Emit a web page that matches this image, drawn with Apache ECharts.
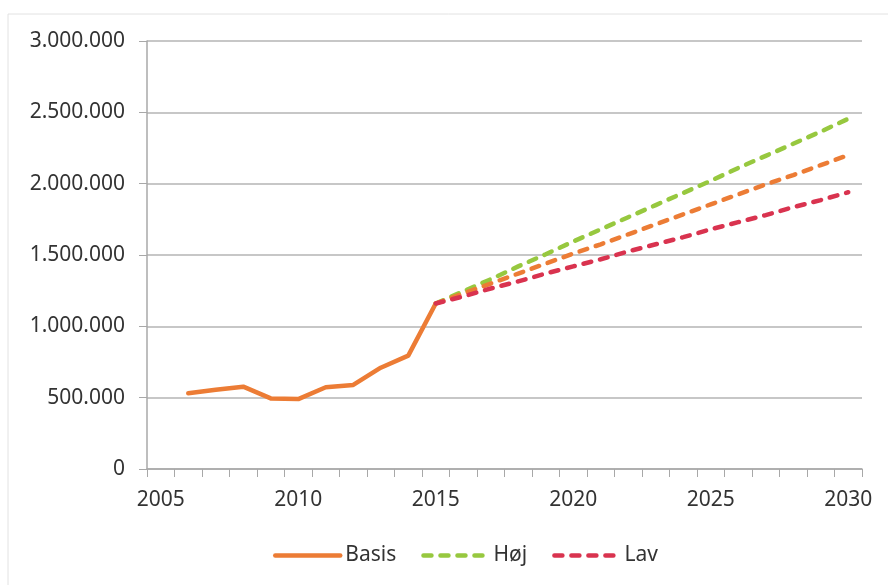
<!DOCTYPE html>
<html>
<head>
<meta charset="utf-8">
<title>Basis / Høj / Lav</title>
<script src="https://cdn.jsdelivr.net/npm/echarts@6/dist/echarts.min.js"></script>
<style>
  html, body { margin: 0; padding: 0; background: #fff; }
  #chart { width: 888px; height: 585px; }
</style>
</head>
<body>
<div id="chart"></div>
<script>
// years on the category axis
const years = []
for (let y = 2005; y <= 2030; y++) years.push(String(y))

// historical values 2005-2015 (2005 has no value)
const basisHist = [null, 531000, 555000, 577000, 495000, 490000, 573000, 589000, 710000, 795000, 1160000]

// projections 2015-2030
const hoejProj  = [1160000, 1245000, 1330000, 1420000, 1505000, 1595000, 1680000, 1765000, 1850000, 1935000, 2020000, 2110000, 2195000, 2280000, 2365000, 2455000]
const basisProj = [1160000, 1230000, 1300000, 1370000, 1440000, 1510000, 1575000, 1645000, 1715000, 1785000, 1855000, 1925000, 1995000, 2060000, 2130000, 2200000]
const lavProj   = [1160000, 1210000, 1265000, 1315000, 1370000, 1420000, 1470000, 1525000, 1575000, 1625000, 1680000, 1730000, 1780000, 1835000, 1885000, 1940000]

const projStart = years.indexOf('2015')

function padHist(arr) {
  return years.map((_, i) => (i < arr.length ? arr[i] : null))
}
function padProj(arr) {
  return years.map((_, i) => (i >= projStart ? arr[i - projStart] : null))
}

function fmt(v) {
  return String(v).replace(/\B(?=(\d{3})+(?!\d))/g, '.')
}

const FONT = 'Noto Sans'
const TEXT = '#333333'
const ORANGE = '#ec7c35'
const GREEN = '#97c83f'
const RED = '#d9334f'
const DASH = [8, 9]

const chart = echarts.init(document.getElementById('chart'))
chart.setOption({
  animation: false,
  textStyle: { fontFamily: FONT },
  graphic: [{
    type: 'rect',
    shape: { x: 8, y: 14, width: 900, height: 600 },
    style: { fill: 'none', stroke: '#e2e2e2', lineWidth: 1 },
    silent: true,
  }],
  grid: { left: 147, right: 26, top: 41, bottom: 116 },
  legend: {
    left: 268,
    top: 540,
    itemWidth: 65,
    itemHeight: 14,
    itemGap: 25,
    data: ['Basis', 'Høj', 'Lav'],
    itemStyle: { opacity: 0 },
    lineStyle: { width: 4.5 },
    textStyle: { fontFamily: FONT, fontSize: 21, color: TEXT },
  },
  xAxis: {
    type: 'category',
    data: years,
    boundaryGap: true,
    axisLine: { lineStyle: { color: '#a8a8a8', width: 1.5 } },
    axisTick: { show: true, interval: 0, length: 8, lineStyle: { color: '#a8a8a8' } },
    axisLabel: { interval: 4, margin: 21, fontSize: 21, color: TEXT, fontFamily: FONT },
    splitLine: { show: false },
  },
  yAxis: {
    type: 'value',
    min: 0,
    max: 3000000,
    interval: 500000,
    axisLine: { show: true, lineStyle: { color: '#a8a8a8', width: 1.5 } },
    axisTick: { show: true, length: 8, lineStyle: { color: '#a8a8a8' } },
    axisLabel: { margin: 22, fontSize: 21, color: TEXT, fontFamily: FONT, formatter: fmt },
    splitLine: { lineStyle: { color: '#b4b4b4', width: 1.5 } },
  },
  series: [
    {
      name: 'Basis',
      type: 'line',
      data: padHist(basisHist),
      symbol: 'none',
      lineStyle: { color: ORANGE, width: 4.5, cap: 'round', join: 'round' },
      itemStyle: { color: ORANGE },
    },
    {
      name: 'Høj',
      type: 'line',
      data: padProj(hoejProj),
      symbol: 'none',
      lineStyle: { color: GREEN, width: 4.5, type: DASH, cap: 'round' },
      itemStyle: { color: GREEN },
    },
    {
      name: 'Basis fremskrivning',
      type: 'line',
      data: padProj(basisProj),
      symbol: 'none',
      lineStyle: { color: ORANGE, width: 4.5, type: DASH, cap: 'round' },
      itemStyle: { color: ORANGE },
    },
    {
      name: 'Lav',
      type: 'line',
      data: padProj(lavProj),
      symbol: 'none',
      lineStyle: { color: RED, width: 4.5, type: DASH, cap: 'round' },
      itemStyle: { color: RED },
    },
  ],
})
</script>
</body>
</html>
